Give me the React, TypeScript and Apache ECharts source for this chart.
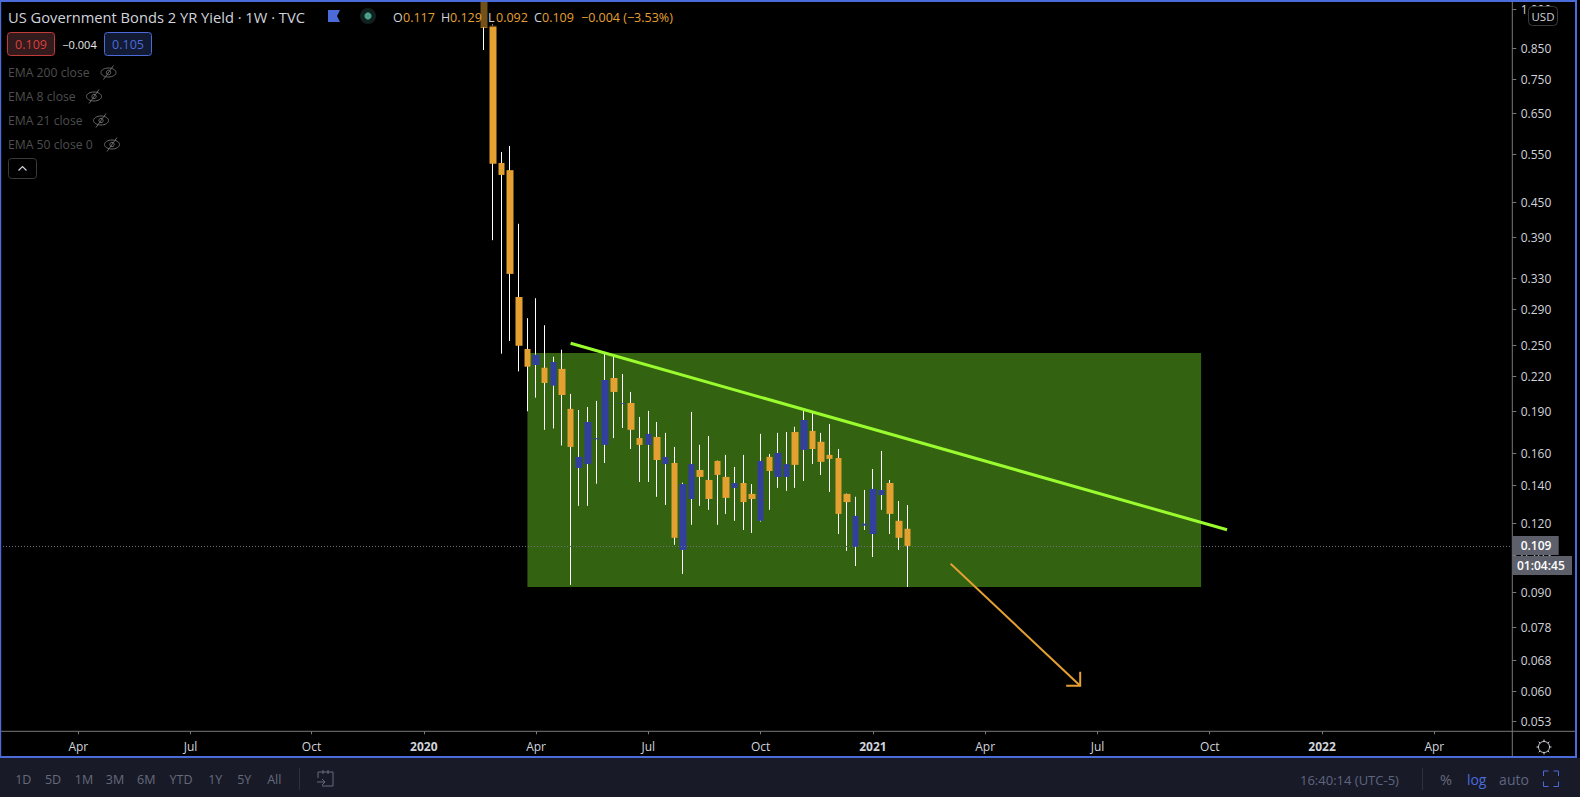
import React, { useEffect, useRef } from "react";
import * as echarts from "echarts";

// ---- data ----
const WEEK_COUNT = 176;
const FIRST_WEEK_UTC = Date.UTC(2019, 0, 28);
const weeks: string[] = [];
for (let i = 0; i < WEEK_COUNT; i++) {
  weeks.push(new Date(FIRST_WEEK_UTC + i * 7 * 864e5).toISOString().slice(0, 10));
}
const xTickDates = ["2019-04-01","2019-07-01","2019-10-07","2020-01-06","2020-04-06","2020-07-06","2020-10-05","2021-01-04","2021-04-05","2021-07-05","2021-10-04","2022-01-03","2022-04-04"];
const xTickTexts = ["Apr","Jul","Oct","2020","Apr","Jul","Oct","2021","Apr","Jul","Oct","2022","Apr"];
const yTicks = [1.0,0.85,0.75,0.65,0.55,0.45,0.39,0.33,0.29,0.25,0.22,0.19,0.16,0.14,0.12,0.105,0.09,0.078,0.068,0.06,0.053];

const firstBar = "2020-02-24";
const opens = [1.35,.933,.5295,.514,.3045,.2457,.23,.2274,.2112,.2263,.1919,.1504,.1528,.1692,.1654,.218,.1958,.1966,.1701,.1654,.1709,.1528,.1535,.1072,.1323,.1491,.1431,.1548,.1449,.1385,.1413,.1351,.1209,.1574,.1449,.1449,.1744,.162,.1752,.1675,.1587,.1567,.1351,.1086,.1185,.1145,.1345,.1413,.1209,.117];
const closes = [.9255,.528,.504,.335,.249,.2284,.24,.2135,.2329,.2032,.164,.1574,.1818,.17,.2162,.2058,.1964,.176,.1654,.1731,.1554,.1574,.1127,.1407,.1528,.1449,.1323,.1461,.1329,.1413,.1306,.1323,.1548,.1485,.16,.1528,.1523,.1833,.1626,.1542,.1561,.1244,.1306,.1234,.1195,.1379,.1373,.1244,.1127,.109];
const lows = [.8441,.385,.241,.254,.224,.19,.201,.176,.177,.165,.0928,.1286,.1286,.1409,.1535,.1701,.1773,.1626,.1419,.1419,.1335,.1291,.1095,.0971,.1189,.1286,.1265,.1189,.1244,.1209,.1164,.115,.1205,.1265,.1385,.1368,.1385,.1425,.1528,.1461,.1362,.1145,.1068,.1003,.1164,.1041,.1265,.1145,.1072,.092];
const highs = [1.45,.94,.554,.568,.412,.279,.303,.271,.238,.245,.2041,.191,.1934,.1983,.2427,.2387,.2216,.2058,.1856,.1903,.1818,.1738,.164,.1415,.1895,.1654,.1716,.155,.1587,.151,.1587,.1407,.1731,.1593,.1738,.1744,.1782,.191,.1895,.1738,.1803,.1626,.1353,.1335,.1373,.1497,.1613,.1431,.1312,.129];

const zone = ["2020-03-30", 0.2417, "2021-09-27", 0.092];
const trend = ["2020-05-04", 0.2516, "2021-10-18", 0.1165];
const arrow = ["2021-03-08", 0.1013, "2021-06-21", 0.0612];
const lastPrice = 0.109;

const ORANGE = "#e5a032";
const BLUE = "#323f9c";
const TEXT = "#d1d4dc";
const DIM = "#4e4e4e";
const TOOL = "#666a7a";
const ACCENT = "#4a6bd8";
const BAR = "#181a28";
const FONT = '"Open Sans", sans-serif';
const AXIS_X = 1512.3;

const txt = (text: string, x: number, y: number, fill: string, size = 12, extra: any = {}) => ({
  type: "text", z: 60, silent: true,
  style: { text, x, y, fill, font: `${extra.weight || "normal"} ${size}px ${FONT}`, textAlign: extra.align || "left", textVerticalAlign: "middle" },
});
const box = (x: number, y: number, w: number, h: number, fill: string, stroke?: string, r = 0, z = 55) => ({
  type: "rect", z, silent: true, shape: { x, y, width: w, height: h, r },
  style: { fill, stroke: stroke || "none", lineWidth: stroke ? 1 : 0 },
});
const seg = (x1: number, y1: number, x2: number, y2: number, stroke: string, lineWidth = 1, z = 60) => ({
  type: "line", z, silent: true, shape: { x1, y1, x2, y2 }, style: { stroke, lineWidth },
});
const eye = (cx: number, cy: number) => ({
  type: "group", z: 60, silent: true, children: [
    { type: "ellipse", shape: { cx, cy, rx: 7.5, ry: 4.5 }, style: { fill: "none", stroke: "#6a6a6a", lineWidth: 1 } },
    { type: "circle", shape: { cx, cy, r: 2.2 }, style: { fill: "none", stroke: "#6a6a6a", lineWidth: 1 } },
    { type: "line", shape: { x1: cx - 5, y1: cy + 7, x2: cx + 5, y2: cy - 7 }, style: { stroke: "#6a6a6a", lineWidth: 1 } },
  ],
});

function buildGraphics() {
  const g: any[] = [];
  // bars and frame
  g.push(box(0, 758, 1580, 39, BAR, undefined, 0, 50));
  g.push(box(1516, 732, 60, 25, "#000", undefined, 0, 5));
  g.push(box(0, 0, 1577, 2, ACCENT, undefined, 0, 70));
  g.push(box(0, 0, 1.2, 758, ACCENT, undefined, 0, 70));
  g.push(box(1575, 0, 2, 758, ACCENT, undefined, 0, 70));
  g.push(box(0, 756, 1577, 2, ACCENT, undefined, 0, 70));
  // axes frame
  g.push(seg(AXIS_X, 2, AXIS_X, 756, "#787878", 1, 45));
  g.push(seg(0, 731.3, 1575, 731.3, "#787878", 1, 45));

  // legend dim band
  g.push(box(1, 2, 680, 25, "rgba(0,0,0,0.5)", undefined, 0, 40));

  // legend
  g.push(txt("US Government Bonds 2 YR Yield · 1W · TVC", 8, 17, TEXT, 14.7));
  g.push({ type: "polygon", z: 60, silent: true, shape: { points: [[328, 10], [340, 10], [337, 16], [340, 22], [328, 22]] }, style: { fill: ACCENT } });
  g.push({ type: "circle", z: 59, silent: true, shape: { cx: 368, cy: 16, r: 8 }, style: { fill: "#10211d" } });
  g.push({ type: "circle", z: 60, silent: true, shape: { cx: 368, cy: 16, r: 3.6 }, style: { fill: "#4ba08c" } });
  const ohlc: [string, number, string, number][] = [["O", 393, "0.117", 403], ["H", 441, "0.129", 450], ["L", 488, "0.092", 496], ["C", 534, "0.109", 542]];
  ohlc.forEach(([k, kx, v, vx]) => { g.push(txt(k, kx, 17, TEXT, 12.5)); g.push(txt(v, vx, 17, ORANGE, 12.5)); });
  g.push(txt("−0.004 (−3.53%)", 581, 17, ORANGE, 12.5));

  g.push(box(7.5, 32.5, 47, 23, "#331a1c", "#c23b3b", 3));
  g.push(txt("0.109", 31, 44.5, "#d8403f", 12.5, { align: "center" }));
  g.push(txt("−0.004", 79.5, 44.5, "#e8e8e8", 11, { align: "center" }));
  g.push(box(104.5, 32.5, 47, 23, "#131a33", ACCENT, 3));
  g.push(txt("0.105", 128, 44.5, ACCENT, 12.5, { align: "center" }));

  const emas: [string, number, number][] = [["EMA 200 close", 72.5, 108.5], ["EMA 8 close", 96.5, 94], ["EMA 21 close", 120.5, 101], ["EMA 50 close 0", 144.5, 112]];
  emas.forEach(([t, y, ex]) => { g.push(txt(t, 8, y, DIM, 12.2)); g.push(eye(ex, y)); });
  g.push(box(8.5, 158.5, 28, 20, "#000", "#3a3a3a", 3));
  g.push({ type: "polyline", z: 60, silent: true, shape: { points: [[18.5, 170.5], [22.5, 166.5], [26.5, 170.5]] }, style: { fill: "none", stroke: TEXT, lineWidth: 1.2 } });

  // price axis overlays
  g.push(box(1528.5, 6.5, 29, 19, "#000", "#3a3a3a", 4));
  g.push(txt("USD", 1543, 16, TEXT, 11.5, { align: "center" }));
  g.push(box(AXIS_X, 536, 46.4, 19, "#5d606b"));
  g.push(txt("0.109", 1520.7, 545.5, "#ffffff", 12, { weight: "600" }));
  g.push(box(AXIS_X, 556, 59.7, 19, "#5d606b"));
  g.push(txt("01:04:45", 1517, 565.5, "#ffffff", 12, { weight: "600" }));

  // gear
  const gx = 1544, gy = 747;
  g.push({ type: "circle", z: 60, silent: true, shape: { cx: gx, cy: gy, r: 5.5 }, style: { fill: "none", stroke: TEXT, lineWidth: 1 } });
  [0, 45, 90, 135, 180, 225, 270, 315].forEach((deg) => {
    const a = (deg * Math.PI) / 180;
    g.push(seg(gx + 5.5 * Math.cos(a), gy + 5.5 * Math.sin(a), gx + 7.5 * Math.cos(a), gy + 7.5 * Math.sin(a), TEXT));
  });

  // toolbar
  const ranges: [string, number][] = [["1D", 23.3], ["5D", 53], ["1M", 84], ["3M", 115], ["6M", 146.3], ["YTD", 181], ["1Y", 215.3], ["5Y", 244.3], ["All", 274.3]];
  ranges.forEach(([t, x]) => g.push(txt(t, x, 779.5, TOOL, 12.5, { align: "center" })));
  g.push(seg(299.5, 768, 299.5, 790, "#2e3040"));
  g.push({ type: "polyline", z: 60, silent: true, shape: { points: [[318, 778], [318, 772], [333, 772], [333, 786], [322, 786]] }, style: { fill: "none", stroke: TOOL, lineWidth: 1 } });
  g.push(seg(323, 770, 323, 774, TOOL));
  g.push(seg(328, 770, 328, 774, TOOL));
  g.push(seg(317, 782, 325, 782, TOOL));
  g.push({ type: "polyline", z: 60, silent: true, shape: { points: [[322, 779], [325, 782], [322, 785]] }, style: { fill: "none", stroke: TOOL, lineWidth: 1 } });

  g.push(txt("16:40:14 (UTC-5)", 1300, 779.5, "#5f6580", 13));
  g.push(seg(1422.5, 768, 1422.5, 790, "#2e3040"));
  g.push(txt("%", 1446, 779.5, TOOL, 14.5, { align: "center" }));
  g.push(txt("log", 1476.7, 779.5, ACCENT, 14, { align: "center" }));
  g.push(txt("auto", 1514, 779.5, "#5f6580", 14, { align: "center" }));
  const c: [number, number, number, number][] = [[1543.5, 776, 1, -1], [1558.5, 776, -1, -1], [1543.5, 781.5, 1, 1], [1558.5, 781.5, -1, 1]];
  c.forEach(([x, y, sx, sy]) => {
    g.push({ type: "polyline", z: 60, silent: true, shape: { points: [[x, y], [x, y + sy * 5], [x + sx * 5, y + sy * 5]] }, style: { fill: "none", stroke: ACCENT, lineWidth: 1 } });
  });
  return g;
}

export default function App() {
  const ref = useRef<HTMLDivElement>(null);
  useEffect(() => {
    const chart = echarts.init(ref.current!, undefined, { renderer: "svg" });
    const firstIdx = weeks.indexOf(firstBar);
    const ohlc = weeks.map((_, i) => {
      const r = i - firstIdx;
      return r >= 0 && r < opens.length ? [opens[r], closes[r], lows[r], highs[r]] : ["-", "-", "-", "-"];
    });
    const bodies = weeks.map((_, i) => {
      const r = i - firstIdx;
      return r >= 0 && r < opens.length
        ? [opens[r], closes[r], Math.min(opens[r], closes[r]), Math.max(opens[r], closes[r])]
        : ["-", "-", "-", "-"];
    });
    const xTickSet = new Map(xTickDates.map((d, i) => [d, xTickTexts[i]]));
    const showTick = (_: number, value: string) => xTickSet.has(value);

    const ptsOf = (api: any) => [api.coord([api.value(0), api.value(1)]), api.coord([api.value(2), api.value(3)])];

    chart.setOption({
      animation: false,
      backgroundColor: "#000000",
      textStyle: { fontFamily: FONT },
      grid: { left: -3.75, top: 2, width: 1520.11, height: 729.3, containLabel: false, outerBoundsMode: "none" },
      xAxis: {
        type: "category", data: weeks, boundaryGap: true,
        axisLine: { show: false },
        splitLine: { show: false },
        axisTick: { show: true, interval: showTick, alignWithLabel: true, length: 3, lineStyle: { color: "#787878" } },
        axisLabel: {
          interval: showTick, margin: 9, color: TEXT, fontSize: 12, fontFamily: FONT,
          formatter: (value: string) => {
            const t = xTickSet.get(value) || "";
            return /^\d+$/.test(t) ? `{y|${t}}` : t;
          },
          rich: { y: { fontWeight: "bold", fontSize: 12, color: TEXT, fontFamily: FONT } },
        },
      },
      yAxis: {
        type: "log", logBase: 10, min: 0.05071, max: 1.029, position: "right",
        axisLine: { show: false }, axisTick: { show: false }, axisLabel: { show: false }, splitLine: { show: false },
      },
      series: [
        {
          name: "Zone", type: "custom", z: 1, silent: true, clip: false,
          encode: { x: [0, 2], y: [1, 3] }, data: [zone],
          renderItem: (_: any, api: any) => {
            const [a, b] = ptsOf(api);
            return { type: "rect", shape: { x: a[0], y: a[1], width: b[0] - a[0], height: b[1] - a[1] }, style: { fill: "#336311" } };
          },
        },
        {
          name: "Wicks", type: "candlestick", z: 2, silent: true, barWidth: 1, data: ohlc,
          itemStyle: { color: "#ffffff", color0: "#ffffff", borderColor: "#ffffff", borderColor0: "#ffffff", borderWidth: 1 },
        },
        {
          name: "Bodies", type: "candlestick", z: 3, silent: true, barWidth: 7, data: bodies,
          itemStyle: { color: BLUE, color0: ORANGE, borderColor: BLUE, borderColor0: ORANGE, borderWidth: 0 },
        },
        {
          name: "Trend", type: "custom", z: 5, silent: true, clip: false,
          encode: { x: [0, 2], y: [1, 3] }, data: [trend],
          renderItem: (_: any, api: any) => {
            const [a, b] = ptsOf(api);
            return { type: "line", shape: { x1: a[0], y1: a[1], x2: b[0], y2: b[1] }, style: { stroke: "#9afb2e", lineWidth: 3 } };
          },
        },
        {
          name: "Arrow", type: "custom", z: 5, silent: true, clip: false,
          encode: { x: [0, 2], y: [1, 3] }, data: [arrow],
          renderItem: (_: any, api: any) => {
            const [a, b] = ptsOf(api);
            return {
              type: "group", children: [
                { type: "line", shape: { x1: a[0], y1: a[1], x2: b[0], y2: b[1] }, style: { stroke: ORANGE, lineWidth: 2 } },
                { type: "polyline", shape: { points: [[b[0] - 14, b[1]], [b[0], b[1]], [b[0], b[1] - 14]] }, style: { fill: "none", stroke: ORANGE, lineWidth: 2 } },
              ],
            };
          },
        },
        {
          name: "Last price", type: "custom", z: 6, silent: true, clip: false,
          data: [[0, lastPrice]],
          renderItem: (_: any, api: any) => {
            const y = Math.round(api.coord([0, api.value(1)])[1]) + 0.5;
            return { type: "line", shape: { x1: 0, y1: y, x2: AXIS_X, y2: y }, style: { stroke: "#6f727d", lineWidth: 1, lineDash: [1, 2] } };
          },
        },
        {
          name: "Price ticks", type: "custom", z: 7, silent: true, clip: false,
          data: yTicks.map((v) => [0, v]),
          renderItem: (_: any, api: any) => {
            const v = api.value(1);
            const y = Math.round(api.coord([0, v])[1]) + 0.5;
            return {
              type: "group", children: [
                { type: "line", shape: { x1: AXIS_X, y1: y, x2: AXIS_X + 4, y2: y }, style: { stroke: "#787878", lineWidth: 1 } },
                { type: "text", style: { text: v.toFixed(3), x: 1520.7, y, fill: TEXT, font: `12px ${FONT}`, textAlign: "left", textVerticalAlign: "middle" } },
              ],
            };
          },
        },
      ],
      graphic: { elements: buildGraphics() },
    });
    return () => chart.dispose();
  }, []);
  return <div ref={ref} style={{ position: "fixed", left: 0, top: 0, width: 1580, height: 797, background: "#000" }} />;
}
